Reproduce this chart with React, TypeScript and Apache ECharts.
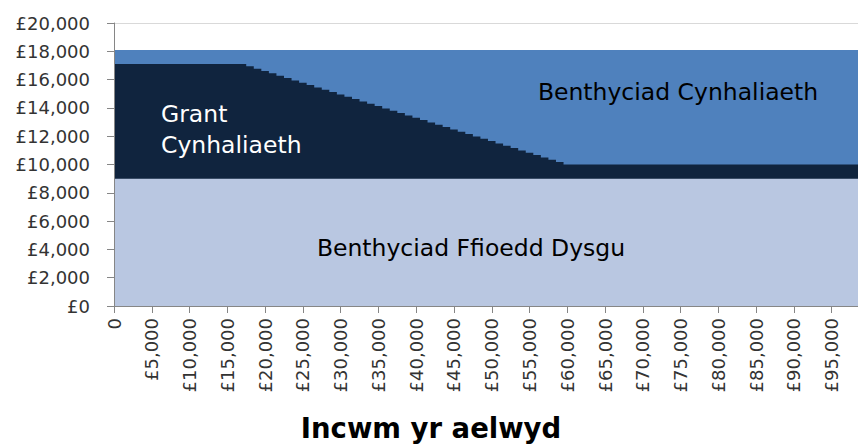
import React, { useEffect, useRef } from "react";
import * as echarts from "echarts";

// Household income (£) at which each step of the chart begins
const incomes = [
  0, 17500, 18500, 19500, 20500, 21500, 22500, 23500, 24500, 25500, 26500,
  27500, 28500, 29500, 30500, 31500, 32500, 33500, 34500, 35500, 36500, 37500,
  38500, 39500, 40500, 41500, 42500, 43500, 44500, 45500, 46500, 47500, 48500,
  49500, 50500, 51500, 52500, 53500, 54500, 55500, 56500, 57500, 58500, 59500,
  100000,
];

// Benthyciad Ffioedd Dysgu (tuition fee loan)
const tuitionFeeLoan = [
  9000, 9000, 9000, 9000, 9000, 9000, 9000, 9000, 9000, 9000, 9000, 9000, 9000,
  9000, 9000, 9000, 9000, 9000, 9000, 9000, 9000, 9000, 9000, 9000, 9000, 9000,
  9000, 9000, 9000, 9000, 9000, 9000, 9000, 9000, 9000, 9000, 9000, 9000, 9000,
  9000, 9000, 9000, 9000, 9000, 9000,
];

// Grant Cynhaliaeth (maintenance grant)
const maintenanceGrant = [
  8100, 7935, 7770, 7605, 7440, 7275, 7110, 6945, 6780, 6615, 6450, 6285, 6120,
  5955, 5790, 5625, 5460, 5295, 5130, 4965, 4800, 4635, 4470, 4305, 4140, 3975,
  3810, 3645, 3480, 3315, 3150, 2985, 2820, 2655, 2490, 2325, 2160, 1995, 1830,
  1665, 1500, 1335, 1170, 1000, 1000,
];

// Benthyciad Cynhaliaeth (maintenance loan)
const maintenanceLoan = [
  1000, 1165, 1330, 1495, 1660, 1825, 1990, 2155, 2320, 2485, 2650, 2815, 2980,
  3145, 3310, 3475, 3640, 3805, 3970, 4135, 4300, 4465, 4630, 4795, 4960, 5125,
  5290, 5455, 5620, 5785, 5950, 6115, 6280, 6445, 6610, 6775, 6940, 7105, 7270,
  7435, 7600, 7765, 7930, 8100, 8100,
];

const seriesNames = [
  "Benthyciad Ffioedd Dysgu",
  "Grant Cynhaliaeth",
  "Benthyciad Cynhaliaeth",
];
const xAxisTitle = "Incwm yr aelwyd";

const colLight = "#B9C7E1";
const colDark = "#10243E";
const colMid = "#4F81BD";
const axisGray = "#868686";
const labelFont = "DejaVu Sans";

const fmtMoney = (v: number) =>
  "£" + v.toLocaleString("en-GB", { maximumFractionDigits: 0 });

export default function App() {
  const ref = useRef<HTMLDivElement>(null);

  useEffect(() => {
    if (!ref.current) return;
    const chart = echarts.init(ref.current, undefined, { renderer: "svg" });

    // cumulative tops of each band (drawn as overlapping areas from 0)
    const bandTuition = incomes.map((x, i) => [x, tuitionFeeLoan[i]]);
    const bandGrant = incomes.map((x, i) => [x, tuitionFeeLoan[i] + maintenanceGrant[i]]);
    const bandLoan = incomes.map((x, i) => [
      x,
      tuitionFeeLoan[i] + maintenanceGrant[i] + maintenanceLoan[i],
    ]);

    const areaSeries = (name: string, data: number[][], color: string, z: number) => ({
      type: "line",
      name,
      step: "end",
      data,
      symbol: "none",
      showSymbol: false,
      lineStyle: { width: 0, color },
      itemStyle: { color },
      areaStyle: { color, opacity: 1, origin: "start" },
      z,
      silent: true,
    });

    // only the top (£20,000) grid line is visible in the reference
    const splitColors = [
      "rgba(0,0,0,0)", "rgba(0,0,0,0)", "rgba(0,0,0,0)", "rgba(0,0,0,0)",
      "rgba(0,0,0,0)", "rgba(0,0,0,0)", "rgba(0,0,0,0)", "rgba(0,0,0,0)",
      "rgba(0,0,0,0)", "rgba(0,0,0,0)", "#D9D9D9",
    ];

    chart.setOption({
      animation: false,
      grid: {
        left: 114,
        top: 23,
        width: 755.5,
        height: 283,
        containLabel: false,
        outerBoundsMode: "none",
      },
      xAxis: {
        type: "value",
        min: 0,
        max: 100000,
        interval: 5000,
        axisLine: { show: true, lineStyle: { color: axisGray, width: 1 } },
        axisTick: { show: true, inside: false, length: 7, lineStyle: { color: axisGray } },
        splitLine: { show: false },
        axisLabel: {
          rotate: 90,
          margin: 12,
          showMaxLabel: false,
          fontFamily: labelFont,
          fontSize: 18,
          color: "#333333",
          formatter: (v: number) => (v === 0 ? "0" : fmtMoney(v)),
        },
        z: 10,
      },
      yAxis: {
        type: "value",
        min: 0,
        max: 20000,
        interval: 2000,
        axisLine: { show: true, lineStyle: { color: axisGray, width: 1 } },
        axisTick: { show: true, inside: false, length: 7, lineStyle: { color: axisGray } },
        splitLine: { show: true, lineStyle: { color: splitColors, width: 1 } },
        axisLabel: {
          margin: 24,
          fontFamily: labelFont,
          fontSize: 18,
          color: "#333333",
          formatter: (v: number) => fmtMoney(v),
        },
        z: 10,
      },
      series: [
        areaSeries(seriesNames[2], bandLoan, colMid, 2),
        areaSeries(seriesNames[1], bandGrant, colDark, 3),
        areaSeries(seriesNames[0], bandTuition, colLight, 4),
      ],
      graphic: [
        {
          type: "text",
          x: 161,
          y: 114,
          z: 100,
          style: {
            text: "Grant",
            fill: "#FFFFFF",
            font: `23.5px "${labelFont}"`,
            textAlign: "left",
            textVerticalAlign: "middle",
          },
        },
        {
          type: "text",
          x: 161,
          y: 145,
          z: 100,
          style: {
            text: "Cynhaliaeth",
            fill: "#FFFFFF",
            font: `23.5px "${labelFont}"`,
            textAlign: "left",
            textVerticalAlign: "middle",
          },
        },
        {
          type: "text",
          x: 678,
          y: 92,
          z: 100,
          style: {
            text: seriesNames[2],
            fill: "#000000",
            font: `23.5px "${labelFont}"`,
            textAlign: "center",
            textVerticalAlign: "middle",
          },
        },
        {
          type: "text",
          x: 471,
          y: 248,
          z: 100,
          style: {
            text: seriesNames[0],
            fill: "#000000",
            font: `23.5px "${labelFont}"`,
            textAlign: "center",
            textVerticalAlign: "middle",
          },
        },
        {
          type: "text",
          x: 431,
          y: 428,
          z: 100,
          style: {
            text: xAxisTitle,
            fill: "#000000",
            font: `bold 27.5px "${labelFont}"`,
            textAlign: "center",
            textVerticalAlign: "middle",
          },
        },
      ],
    });

    return () => chart.dispose();
  }, []);

  return (
    <div
      ref={ref}
      style={{
        position: "fixed",
        left: 0,
        top: 0,
        width: 858,
        height: 446,
        overflow: "hidden",
        background: "#FFFFFF",
      }}
    />
  );
}
